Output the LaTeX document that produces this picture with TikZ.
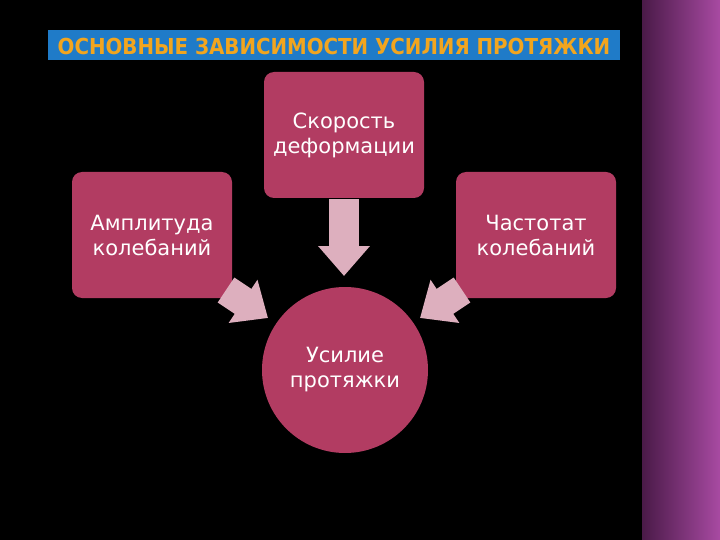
\documentclass[tikz,border=0pt]{standalone}
\usepackage{fontspec}
\setmainfont{DejaVu Sans}
\newfontfamily\condf{DejaVu Sans Condensed}
\usetikzlibrary{arrows.meta}
\definecolor{boxc}{HTML}{B23C62}
\definecolor{arrc}{HTML}{DDAFBE}
\definecolor{titbg}{HTML}{1F7BC8}
\definecolor{titfg}{HTML}{F2A51E}
\definecolor{stripl}{HTML}{4A1A48}
\definecolor{stripr}{HTML}{A84AA2}
\begin{document}
\begin{tikzpicture}[x=1pt,y=-1pt,
  bx/.style={draw=none,fill=boxc,rounded corners=10pt,minimum width=160pt,minimum height=126pt,text=white,align=center,font=\fontsize{21}{25}\selectfont},
  arr/.style={draw=arrc,line width=30pt,-{Triangle[width=50pt,length=30pt]}}]
\fill[black] (0,0) rectangle (720,540);
\shade[left color=stripl,right color=stripr] (642,0) rectangle (720,540);
\fill[titbg] (48,30) rectangle (620,60);
\node[text=titfg,font=\fontsize{22}{24}\selectfont\bfseries\condf] (title) at (334,46) {ОСНОВНЫЕ ЗАВИСИМОСТИ УСИЛИЯ ПРОТЯЖКИ};
\node[bx] (top) at (344,135) {Скорость\\деформации};
\node[bx] (left) at (152,235) {Амплитуда\\колебаний};
\node[bx] (right) at (536,235) {Частотат\\колебаний};
\node[circle,fill=boxc,minimum size=166pt,text=white,align=center,font=\fontsize{21}{25}\selectfont] (c) at (345,370) {Усилие\\протяжки};
\coordinate (la) at (226,290);
\coordinate (lt) at (268,318);
\coordinate (ra) at (462,290);
\coordinate (rt) at (420,318);
\coordinate (ta) at (344,199);
\coordinate (tt) at (344,276);
\draw[arr] (ta) -- (tt);
\draw[arr] (la) -- (lt);
\draw[arr] (ra) -- (rt);
\end{tikzpicture}
\end{document}
